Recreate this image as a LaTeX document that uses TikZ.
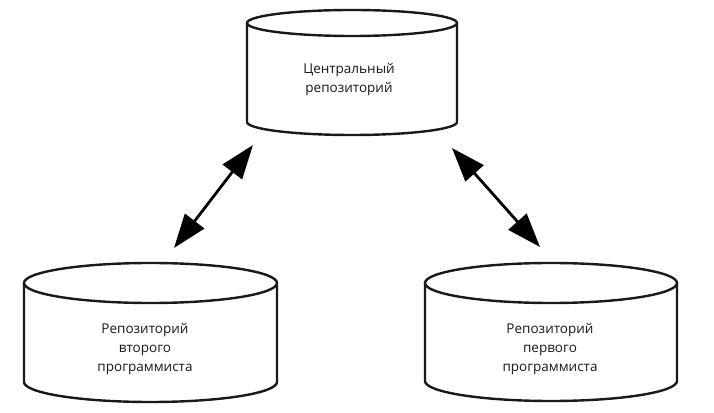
\documentclass[tikz,border=0pt]{standalone}
\usepackage{fontspec}
\setmainfont{Open Sans}
\usetikzlibrary{arrows.meta}
\tikzset{
  cylline/.style={draw=black!90, line width=2.4pt},
  lbl/.style={align=center, font=\fontsize{13.5}{19}\selectfont, text=black!90},
  dbl/.style={line width=2.8pt, {Triangle[length=34pt,width=24pt]}-{Triangle[length=34pt,width=24pt]}}
}
\newcommand\mycyl[5]{%
  \draw[cylline] (#1,#2) ellipse [x radius=#4, y radius=#5];
  \draw[cylline] (#1-#4,#2) -- (#1-#4,#3) arc[start angle=180,end angle=360,x radius=#4,y radius=#5] -- (#1+#4,#2);
}
\begin{document}
\begin{tikzpicture}[x=1pt,y=1pt]
\useasboundingbox (0,0) rectangle (714,412);
\fill[white] (0,0) rectangle (714,412);
% cylinders
\mycyl{352}{389}{290}{105}{13}
\mycyl{150.5}{129}{30}{126.5}{20}
\mycyl{551}{129}{31}{126}{20}
% labels
\node[lbl] (central) at (349,332) {Центральный\\репозиторий};
\node[lbl] (second) at (145,63) {Репозиторий\\второго\\программиста};
\node[lbl] (first) at (550,63) {Репозиторий\\первого\\программиста};
% arrow ends
\coordinate (cL) at (253,267);
\coordinate (sT) at (174,164);
\coordinate (cR) at (452,264);
\coordinate (fT) at (540,165);
\draw[dbl] (sT) -- (cL);
\draw[dbl] (cR) -- (fT);
\end{tikzpicture}
\end{document}
